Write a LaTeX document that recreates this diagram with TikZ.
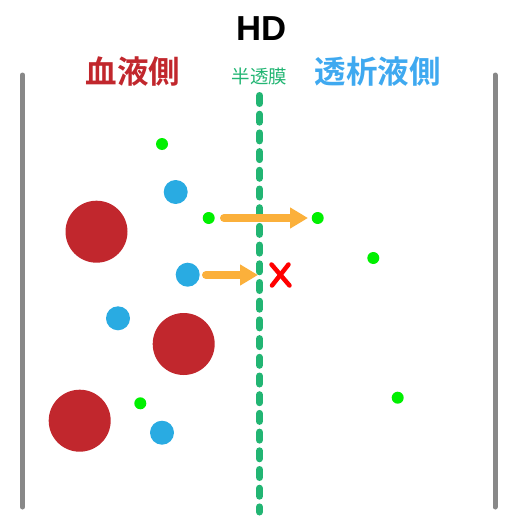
\documentclass[tikz,border=0pt]{standalone}
\usepackage{fontspec}
\setmainfont{Liberation Sans}
\newfontfamily\cjk{Noto Sans CJK JP}
\newfontfamily\cjkb{Noto Sans CJK JP Bold}
\usetikzlibrary{arrows.meta}
\definecolor{wallgray}{HTML}{888888}
\definecolor{memgreen}{HTML}{22B573}
\definecolor{cellred}{HTML}{C1272D}
\definecolor{ionblue}{HTML}{29ABE2}
\definecolor{dotgreen}{HTML}{00F000}
\definecolor{arroworange}{HTML}{FBB03B}
\definecolor{labelblue}{HTML}{3FA9F0}
\tikzset{
  wall/.style={draw=wallgray, line width=5pt, line cap=round},
  membrane/.style={draw=memgreen, line width=7pt, line cap=round, dash pattern=on 8pt off 10.7pt},
  bigcell/.style={circle, fill=cellred, minimum size=62pt, inner sep=0pt},
  midion/.style={circle, fill=ionblue, minimum size=24pt, inner sep=0pt},
  smallmol/.style={circle, fill=dotgreen, minimum size=12pt, inner sep=0pt},
  flowarrow/.style={draw=arroworange, line width=8pt, line cap=round, -{Triangle[length=18pt,width=20pt]}},
  blockmark/.style={draw=red, line width=4.5pt, line cap=round},
}
\begin{document}
\begin{tikzpicture}[x=1pt,y=-1pt]
\useasboundingbox (0,0) rectangle (519,519);
% walls
\coordinate (lwt) at (22.5,75);
\coordinate (lwb) at (22.5,507);
\coordinate (rwt) at (495,75);
\coordinate (rwb) at (495,507);
\draw[wall] (lwt) -- (lwb);
\draw[wall] (rwt) -- (rwb);
% membrane
\coordinate (mt) at (259.5,95.5);
\coordinate (mb) at (259.5,512);
\draw[membrane] (mt) -- (mb);
% titles
\node[anchor=base, inner sep=0pt, font=\bfseries\fontsize{34.7}{36}\selectfont] (title) at (261.5,41) {HD};
\node[anchor=base, inner sep=0pt, text=memgreen, font=\cjk\fontsize{18.5}{20}\selectfont] (memlabel) at (259.5,83.5) {半透膜};
\node[anchor=base, inner sep=0pt, text=cellred, font=\cjkb\fontsize{31.5}{33}\selectfont] (bloodlabel) at (133,84) {血液側};
\node[anchor=base, inner sep=0pt, text=labelblue, font=\cjkb\fontsize{31.5}{33}\selectfont] (dialabel) at (377.5,84) {透析液側};
% blood cells
\node[bigcell] (r1) at (96.5,231.7) {};
\node[bigcell] (r2) at (183.7,344) {};
\node[bigcell] (r3) at (79.7,420.7) {};
% medium molecules
\node[midion] (b1) at (175.7,192) {};
\node[midion] (b2) at (187.7,274.7) {};
\node[midion] (b3) at (118,318.3) {};
\node[midion] (b4) at (162,432.7) {};
% small molecules
\node[smallmol] (g1) at (162,144) {};
\node[smallmol] (g2) at (208.7,218) {};
\node[smallmol] (g3) at (317.7,218) {};
\node[smallmol] (g4) at (373.3,258) {};
\node[smallmol] (g5) at (140.3,403.3) {};
\node[smallmol] (g6) at (397.7,397.7) {};
% arrows
\coordinate (a1s) at (224,218);
\coordinate (a1e) at (308,218);
\coordinate (a2s) at (206,275);
\coordinate (a2e) at (258,275);
\draw[flowarrow] (a1s) -- (a1e);
\draw[flowarrow] (a2s) -- (a2e);
% cross
\coordinate (x1) at (271.5,264.5);
\coordinate (x2) at (289.5,285.5);
\coordinate (x3) at (288.5,264.5);
\coordinate (x4) at (272,285.5);
\draw[blockmark] (x1) -- (x2);
\draw[blockmark] (x3) -- (x4);
\end{tikzpicture}
\end{document}
